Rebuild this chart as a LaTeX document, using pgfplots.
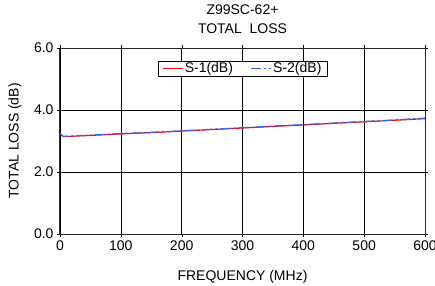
\documentclass[border=0pt]{standalone}
\usepackage{pgfplots}
\pgfplotsset{compat=1.18}
\usepackage{fontspec}
\setmainfont{Liberation Sans}
\definecolor{sblue}{RGB}{55,100,245}
\begin{document}
\begin{tikzpicture}
\useasboundingbox (-60pt,-51pt) rectangle (375pt,234pt);
\begin{axis}[
  at={(0,0)}, anchor=south west,
  scale only axis,
  width=365pt, height=186pt,
  xmin=0, xmax=600, ymin=0, ymax=6,
  xtick={0,100,...,600},
  ytick={0,2,4,6},
  yticklabel style={/pgf/number format/.cd,fixed,fixed zerofill,precision=1},
  /pgf/number format/assume math mode=true,
  grid=major,
  major grid style={black, line width=0.5pt},
  axis line style={black!85, line width=1pt},
  tick style={black},
  tick align=outside,
  major tick length=3pt,
  font=\fontsize{14}{17}\selectfont,
  xlabel={FREQUENCY (MHz)},
  ylabel={TOTAL LOSS (dB)},
  xlabel style={at={(axis description cs:0.5,-0.228)}, anchor=center},
  ylabel style={at={(axis description cs:-0.123,0.5)}, anchor=center},
  title={Z99SC-62+\\TOTAL\ \ LOSS},
  title style={at={(axis description cs:0.5,1)}, anchor=south, align=center, inner sep=0pt, yshift=8pt,
    font=\fontsize{14}{19}\selectfont},
  legend columns=2,
  legend style={at={(0.5,0.93)}, anchor=north, draw=black, line width=0.5pt,
    inner xsep=4pt, inner ysep=0pt,
    nodes={inner sep=1.5pt},
    /tikz/every even column/.append style={column sep=16pt}},
  legend image code/.code={\draw[#1] (0pt,0pt) -- (20pt,0pt);},
  legend cell align=left,
]
\addplot[red, line width=1.2pt] coordinates {
(0,3.22) (2,3.20) (5,3.14) (50,3.18) (100,3.23) (150,3.27) (200,3.32) (250,3.37) (300,3.42) (350,3.47) (400,3.52) (450,3.57) (500,3.62) (550,3.67) (600,3.72)};
\addlegendentry{S-1(dB)}
\addplot[sblue, line width=1.2pt, dash pattern=on 10pt off 3pt on 2pt off 3pt] coordinates {
(0,3.25) (2,3.21) (5,3.15) (50,3.19) (100,3.24) (150,3.28) (200,3.33) (250,3.38) (300,3.43) (350,3.48) (400,3.53) (450,3.58) (500,3.63) (550,3.68) (600,3.74)};
\addlegendentry{S-2(dB)}
\end{axis}
\end{tikzpicture}
\end{document}
